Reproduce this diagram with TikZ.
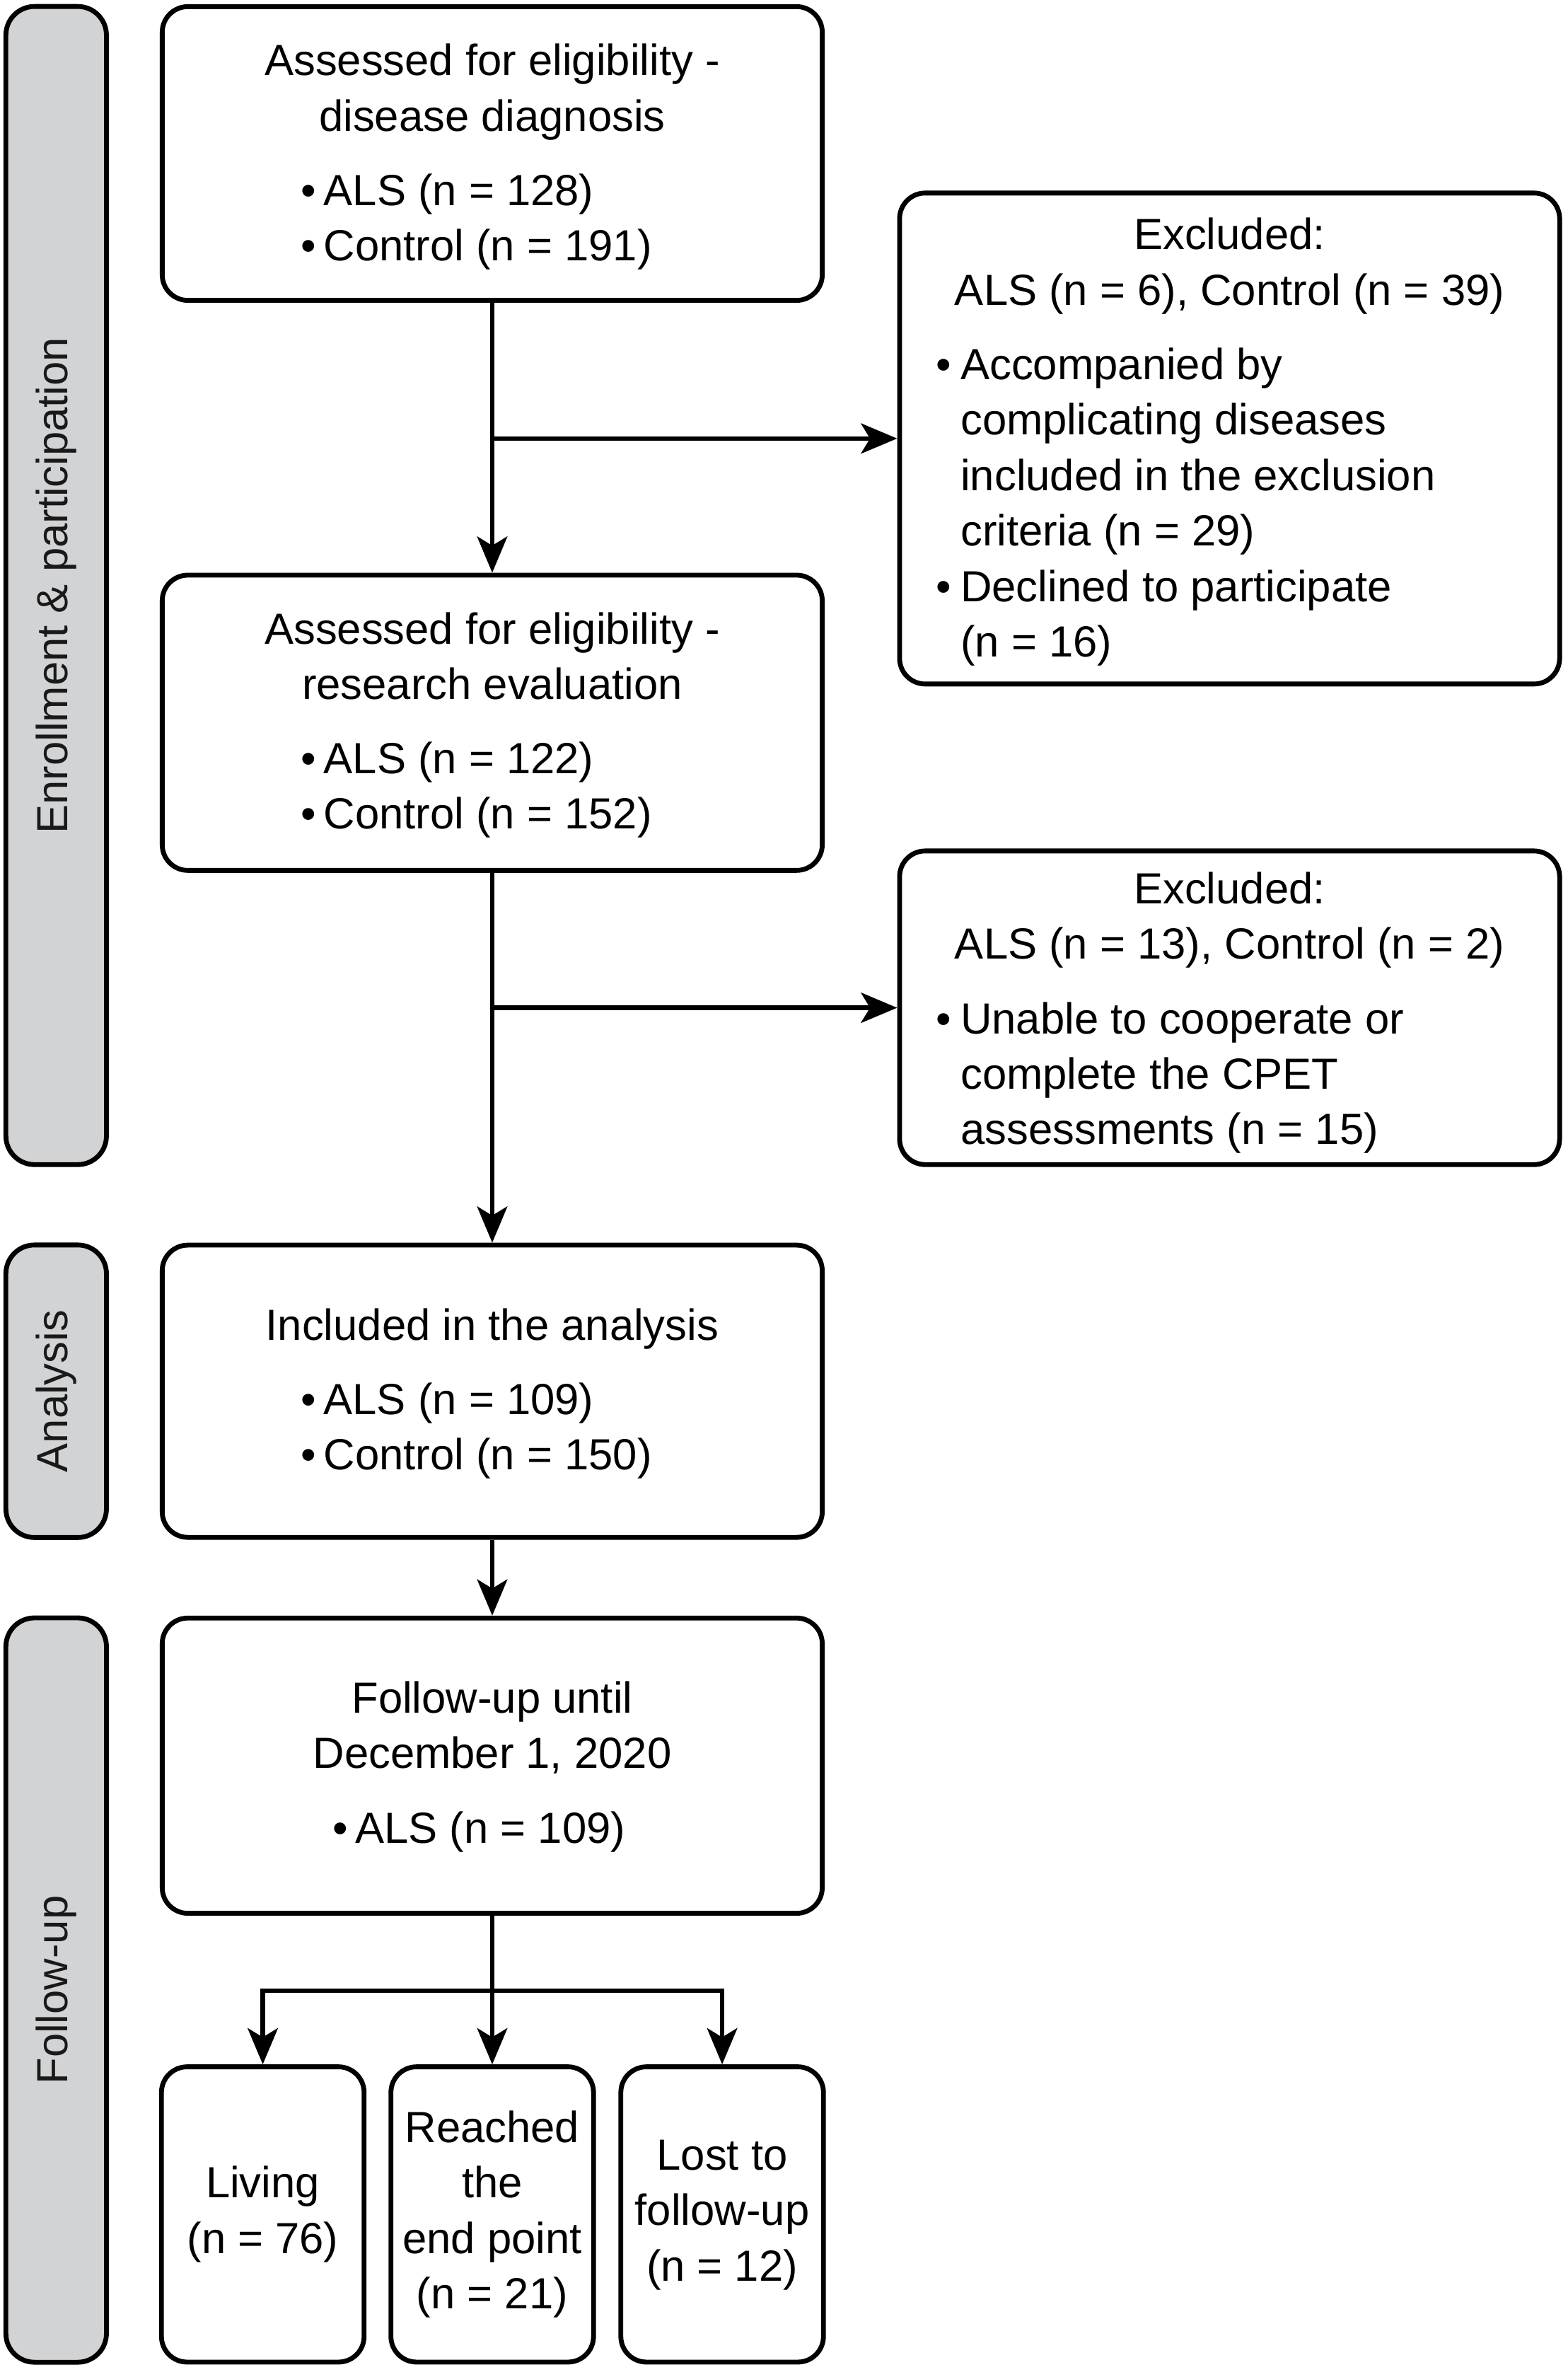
\documentclass[tikz,border=0pt]{standalone}
\usepackage{fontspec}
\setmainfont{Liberation Sans}
\usetikzlibrary{arrows.meta}
\definecolor{panelgray}{RGB}{210,211,213}
\newcommand{\bul}{\textbullet\hspace{2.5pt}}
\newcommand{\dropby}[2]{\raisebox{-#1}[\height][\depth]{#2}}
\begin{document}
\begin{tikzpicture}[x=0.5pt,y=-0.5pt,
  every node/.style={font=\fontsize{14.45pt}{18.4pt}\selectfont},
  box/.style={draw, line width=1.6pt, rounded corners=8.5pt, inner sep=0pt, minimum width=218.9pt, align=center},
  small/.style={box, minimum width=67.2pt, minimum height=97.9pt},
  panel/.style={draw, line width=1.6pt, rounded corners=9.5pt, fill=panelgray, inner sep=0pt, minimum height=33.35pt, rotate=90, text=black!90},
  arr/.style={line width=1.45pt, -{Stealth[length=12pt,width=10pt,inset=3pt]}}
]
\useasboundingbox (0,0) rectangle (1040,1573);

% side panels
\node[panel, minimum width=384pt] (P1) at (37.25,388.3) {Enrollment \& participation};
\node[panel, minimum width=97pt] (P2) at (37.25,922.6) {Analysis};
\node[panel, minimum width=246.8pt] (P3) at (37.25,1319.7) {Follow-up};

% main boxes
\node[box, minimum height=97.4pt] (A) at (326.5,101.8) {\dropby{1.2pt}{%
\begin{tabular}{@{}c@{}}
Assessed for eligibility -\\
disease diagnosis\\[6.25pt]
\begin{tabular}[t]{@{}l@{}}\bul ALS (n = 128)\\ \bul Control (n = 191)\end{tabular}\hspace{10.5pt}
\end{tabular}}};

\node[box, minimum height=162.8pt] (E1) at (815.6,290.8) {\dropby{1.2pt}{%
\begin{tabular}{@{}l@{\hspace{3pt}}l@{}}
\multicolumn{2}{@{}c@{}}{\makebox[194.5pt]{Excluded:}}\\
\multicolumn{2}{@{}c@{}}{\makebox[194.5pt]{ALS (n = 6), Control (n = 39)}}\\[6.25pt]
\textbullet & Accompanied by\\
 & complicating diseases\\
 & included in the exclusion\\
 & criteria (n = 29)\\
\textbullet & Declined to participate\\
 & (n = 16)
\end{tabular}}};

\node[box, minimum height=97.9pt] (B) at (326.5,479.3) {\dropby{0.85pt}{%
\begin{tabular}{@{}c@{}}
Assessed for eligibility -\\
research evaluation\\[6.25pt]
\begin{tabular}[t]{@{}l@{}}\bul ALS (n = 122)\\ \bul Control (n = 152)\end{tabular}\hspace{10.5pt}
\end{tabular}}};

\node[box, minimum height=104pt] (E2) at (815.6,668.3) {\dropby{1.75pt}{%
\begin{tabular}{@{}l@{\hspace{3pt}}l@{}}
\multicolumn{2}{@{}c@{}}{\makebox[194.5pt]{Excluded:}}\\
\multicolumn{2}{@{}c@{}}{\makebox[194.5pt]{ALS (n = 13), Control (n = 2)}}\\[6.25pt]
\textbullet & Unable to cooperate or\\
 & complete the CPET\\
 & assessments (n = 15)
\end{tabular}}};

\node[box, minimum height=96.9pt] (C) at (326.5,922.6) {\dropby{0.9pt}{%
\begin{tabular}{@{}c@{}}
Included in the analysis\\[6.25pt]
\begin{tabular}[t]{@{}l@{}}\bul ALS (n = 109)\\ \bul Control (n = 150)\end{tabular}\hspace{10.5pt}
\end{tabular}}};

\node[box, minimum height=97.9pt] (D) at (326.5,1170.9) {\dropby{0.4pt}{%
\begin{tabular}{@{}c@{}}
Follow-up until\\
December 1, 2020\\[6.25pt]
\bul ALS (n = 109)\hspace{8.8pt}
\end{tabular}}};

\node[small] (L) at (174.3,1468.5) {\begin{tabular}{@{}c@{}}Living\\(n = 76)\end{tabular}};
\node[small] (R) at (326.5,1468.5) {\begin{tabular}{@{}c@{}}Reached\\the\\end point\\(n = 21)\end{tabular}};
\node[small] (Lo) at (479,1468.5) {\begin{tabular}{@{}c@{}}Lost to\\follow-up\\(n = 12)\end{tabular}};

% connectors
\draw[arr] (A.south) -- (B.north);
\draw[arr] (A.south |- E1.west) -- (E1.west);
\draw[arr] (B.south) -- (C.north);
\draw[arr] (B.south |- E2.west) -- (E2.west);
\draw[arr] (C.south) -- (D.north);
\coordinate (split) at (326.5,1320);
\draw[arr] (D.south) -- (R.north);
\draw[arr] (split) -| (L.north);
\draw[arr] (split) -| (Lo.north);
\end{tikzpicture}
\end{document}
